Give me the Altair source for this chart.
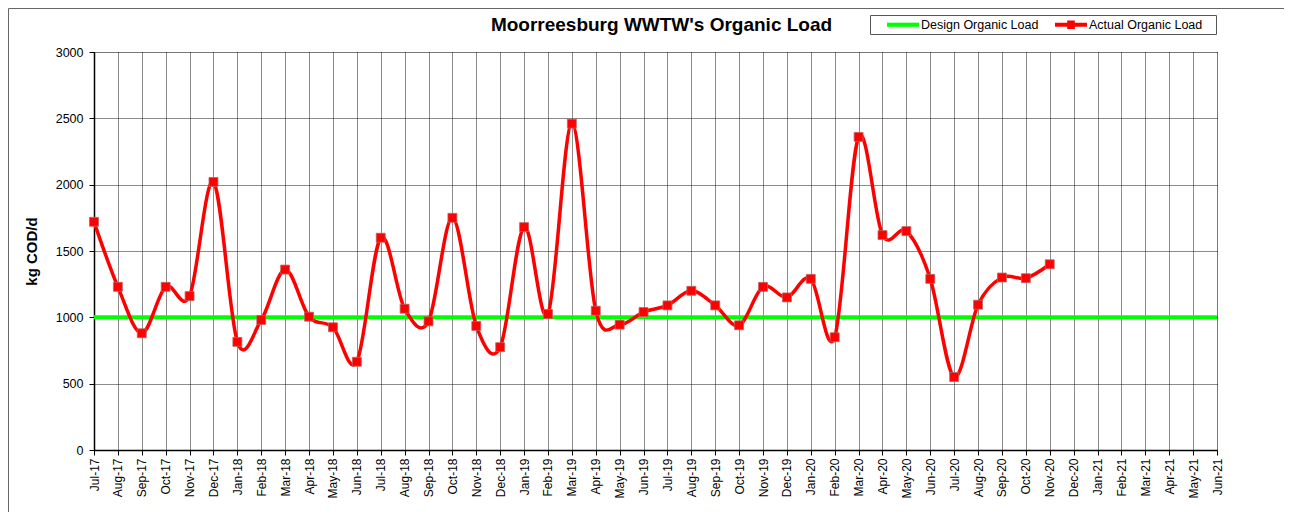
import altair as alt
import pandas as pd

months = ["Jul-17","Aug-17","Sep-17","Oct-17","Nov-17","Dec-17",
          "Jan-18","Feb-18","Mar-18","Apr-18","May-18","Jun-18",
          "Jul-18","Aug-18","Sep-18","Oct-18","Nov-18","Dec-18",
          "Jan-19","Feb-19","Mar-19","Apr-19","May-19","Jun-19",
          "Jul-19","Aug-19","Sep-19","Oct-19","Nov-19","Dec-19",
          "Jan-20","Feb-20","Mar-20","Apr-20","May-20","Jun-20",
          "Jul-20","Aug-20","Sep-20","Oct-20","Nov-20","Dec-20",
          "Jan-21","Feb-21","Mar-21","Apr-21","May-21","Jun-21"]

actual = [1720, 1230, 880, 1230, 1160, 2020,
          815, 980, 1360, 1005, 925, 665,
          1600, 1065, 970, 1750, 935, 775,
          1680, 1025, 2460, 1050, 945, 1040,
          1090, 1200, 1090, 940, 1230, 1150,
          1290, 850, 2360, 1620, 1650, 1290,
          550, 1095, 1300, 1295, 1400]

design_value = 1000
series_names = ["Design Organic Load", "Actual Organic Load"]
series_colors = ["#00FF00", "#FF0000"]

df_actual = pd.DataFrame({"month": months[:len(actual)], "value": actual,
                          "series": series_names[1]})
df_design = pd.DataFrame({"month": months, "value": [design_value] * len(months),
                          "series": series_names[0]})
df_legend = pd.concat([df_design.iloc[:1], df_actual.iloc[:1]])

W, H = 1123, 398
FONT = "Liberation Sans"

x_enc = alt.X("month:O", sort=months,
              scale=alt.Scale(type="point", domain=months, padding=0),
              axis=alt.Axis(title=None, labelAngle=-90, labelFontSize=12, labelFont=FONT,
                            labelColor="#000", labelPadding=3, tickSize=5, tickColor="#000",
                            domainColor="#000", domainWidth=1.5, grid=True,
                            gridColor="#000", gridDash=[1, 1], gridOpacity=0.9,
                            labelBaseline="middle", labelAlign="right"))
y_enc = alt.Y("value:Q",
              scale=alt.Scale(domain=[0, 3000], nice=False, zero=True),
              axis=alt.Axis(title="kg COD/d", values=list(range(0, 3001, 500)), format="d",
                            labelFontSize=12.5, labelFont=FONT, labelColor="#000",
                            labelPadding=6, tickSize=5, tickColor="#000",
                            domainColor="#000", domainWidth=1.5, grid=True,
                            gridColor="#000", gridDash=[1, 1], gridOpacity=0.9,
                            titleFont=FONT, titleFontSize=15, titleFontWeight="bold",
                            titleColor="#000", titlePadding=16))

line_path = "M-1,-0.13 L1,-0.13 L1,0.13 L-1,0.13 Z"
line_sq_path = ("M-1,-0.13 L-0.24,-0.13 L-0.24,-0.26 L0.24,-0.26 L0.24,-0.13 L1,-0.13 "
                "L1,0.13 L0.24,0.13 L0.24,0.26 L-0.24,0.26 L-0.24,0.13 L-1,0.13 Z")

leg = alt.Legend(title=None, orient="none", direction="horizontal",
                 legendX=790, legendY=-46.5,
                 symbolSize=1024, symbolOpacity=1,
                 symbolStrokeWidth=0, labelFont=FONT,
                 labelFontSize=12.5, labelColor="#000",
                 labelOffset=2, columnPadding=16,
                 padding=3, symbolOffset=0)

design = alt.Chart(df_design).mark_line(strokeWidth=4, color=series_colors[0]).encode(
    x=x_enc, y=y_enc)

act_line = alt.Chart(df_actual).mark_line(strokeWidth=3.5, interpolate="cardinal",
                                          color=series_colors[1]).encode(
    x=x_enc, y=y_enc)

act_pts = alt.Chart(df_actual).mark_point(shape="square", filled=True, size=80,
                                          opacity=1, stroke="#c06060", strokeWidth=0.8,
                                          fill="#FF0000").encode(
    x=x_enc, y=y_enc)

legend_layer = alt.Chart(df_legend).mark_point(filled=True, opacity=0).encode(
    x=x_enc, y=y_enc,
    color=alt.Color("series:N", scale=alt.Scale(domain=series_names, range=series_colors),
                    legend=leg),
    shape=alt.Shape("series:N", scale=alt.Scale(domain=series_names,
                                                range=[line_path, line_sq_path]),
                    legend=leg))

frame = alt.Chart(df_legend.iloc[:1]).mark_rect(fill=None, stroke="#666", strokeWidth=1,
                                                 clip=False).encode(
    x=alt.value(-85.5), x2=alt.value(W + 150), y=alt.value(-43.5), y2=alt.value(H + 150))

legend_box = alt.Chart(df_legend.iloc[:1]).mark_rect(fill="#fff", stroke="#555",
                                                      strokeWidth=1, clip=False).encode(
    x=alt.value(776.5), x2=alt.value(1122.5), y=alt.value(-36.5), y2=alt.value(-17.5))

chart = alt.layer(frame, legend_box, design, act_line, act_pts, legend_layer).properties(
    width=W, height=H,
    title=alt.TitleParams("Moorreesburg WWTW's Organic Load", font=FONT, fontSize=19,
                          fontWeight="bold", color="#000", anchor="middle", dx=6, offset=-29),
    autosize=alt.AutoSizeParams(type="none"),
    padding={"left": 86, "top": 44, "right": 67, "bottom": 62},
).configure_view(stroke="#000", strokeWidth=1.5).configure(background="white")

chart.save("out.html", embed_options={"renderer": "svg", "actions": False})
